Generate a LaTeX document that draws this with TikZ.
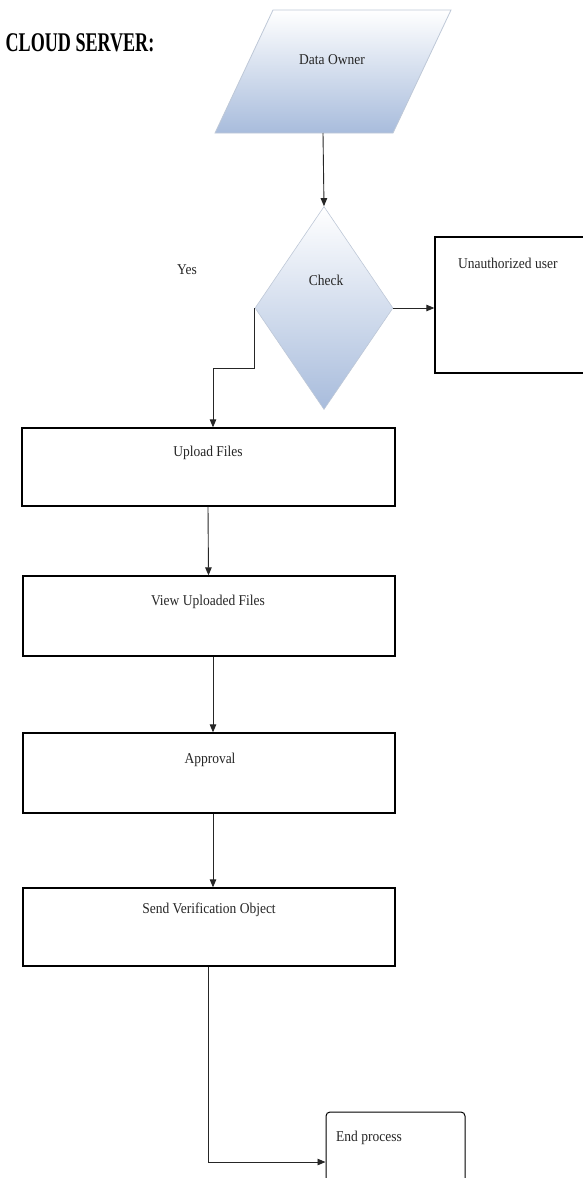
\documentclass[tikz,border=0pt]{standalone}
\usepackage{fontspec}
\setmainfont{Liberation Serif}
\usetikzlibrary{shapes.geometric,arrows.meta}
\definecolor{shadeblue}{RGB}{168,188,220}
\definecolor{edgeblue}{RGB}{190,200,215}
\tikzset{
  box/.style={draw=black, line width=1.3pt, fill=white, inner sep=0pt},
  lbl/.style={font=\fontsize{15}{17}\selectfont, xscale=0.9, inner sep=0pt, text=black!85},
  conn/.style={draw=black!85, line width=0.9pt, -{Triangle[length=8pt,width=6.5pt]}},
  title/.style={font=\bfseries\fontsize{27}{30}\selectfont, xscale=0.67, inner sep=0pt},
}
\begin{document}
\begin{tikzpicture}[x=1pt,y=-1pt]
\useasboundingbox (0,0) rectangle (582,1178);

% title
\node[title] (title) at (80,43) {CLOUD SERVER:};

% data owner parallelogram
\shade[top color=white, bottom color=shadeblue, draw=edgeblue, line width=0.8pt]
  (273,10) -- (451,10) -- (393,133) -- (215,133) -- cycle;
\node[lbl] (owner) at (332,60) {Data Owner};
\coordinate (ownerb) at (323,133);

% check diamond
\node[diamond, minimum width=138pt, minimum height=203pt, inner sep=0pt,
      top color=white, bottom color=shadeblue, draw=edgeblue, line width=0.6pt]
      (check) at (324,308) {};
\node[lbl] (checktxt) at (326,280) {Check};
\node[lbl] (yes) at (187,270) {Yes};

% unauthorised user
\node[box, minimum width=170pt, minimum height=136pt] (unauth) at (520,305) {};
\node[lbl, anchor=west] (unauthtxt) at (458,263) {Unauthorized user};

% process boxes
\node[box, minimum width=373pt, minimum height=78pt] (upload) at (208.5,467) {};
\node[lbl] (uploadtxt) at (208,453) {Upload Files};

\node[box, minimum width=372pt, minimum height=80pt] (view) at (209,616) {};
\node[lbl] (viewtxt) at (208,602) {View Uploaded Files};

\node[box, minimum width=372pt, minimum height=80pt] (approval) at (209,773) {};
\node[lbl] (approvaltxt) at (210,760) {Approval};

\node[box, minimum width=372pt, minimum height=78pt] (send) at (209,927) {};
\node[lbl] (sendtxt) at (209,910) {Send Verification Object};

% end process
\node[box, line width=1pt, rounded corners=4pt, minimum width=139pt, minimum height=100pt]
      (endp) at (395.5,1162) {};
\node[lbl, anchor=west] (endtxt) at (336,1138) {End process};

% connectors
\coordinate (yesbend) at (213,368);
\coordinate (endbend) at (208,1162);

\draw[conn] (ownerb) -- (check.north);
\draw[conn] (check.east) -- (unauth.west |- check.east);
\draw[conn] (check.west) |- (yesbend) -- (yesbend |- upload.north);
\draw[conn] ([xshift=-0.5pt]upload.south) -- ([xshift=-0.5pt]view.north);
\draw[conn] ([xshift=4pt]view.south) -- ([xshift=4pt]approval.north);
\draw[conn] ([xshift=4pt]approval.south) -- ([xshift=4pt]send.north);
\draw[conn] (send.south -| endbend) -- (endbend) -- (endbend -| endp.west);
\end{tikzpicture}
\end{document}
